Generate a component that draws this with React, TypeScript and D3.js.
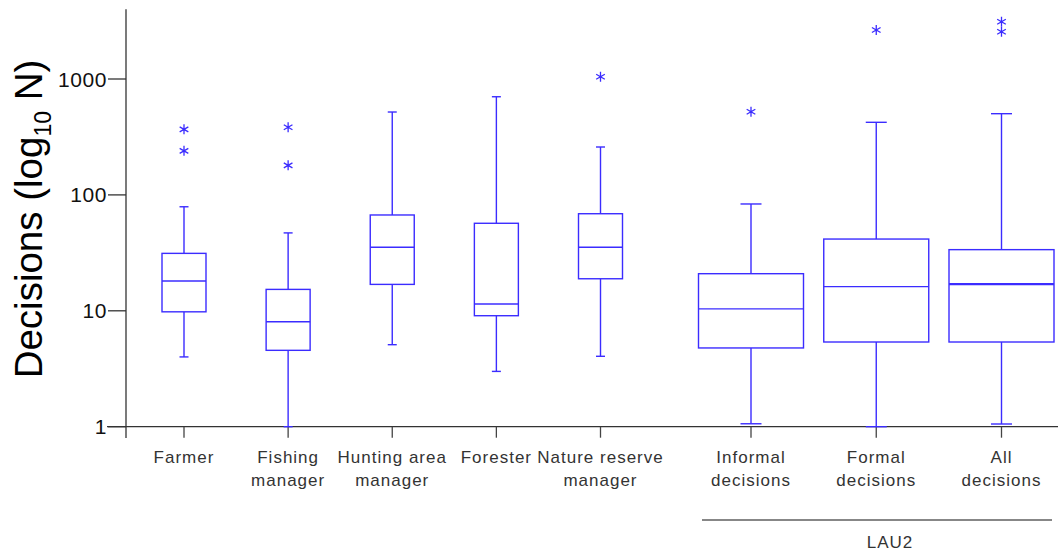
import React from "react";
import * as d3 from "d3";

const groupA = ["Farmer", "Fishing manager", "Hunting area manager", "Forester", "Nature reserve manager"];
const groupB = ["Informal decisions", "Formal decisions", "All decisions"];
const labelLines = [
  ["Farmer"],
  ["Fishing", "manager"],
  ["Hunting area", "manager"],
  ["Forester"],
  ["Nature reserve", "manager"],
  ["Informal", "decisions"],
  ["Formal", "decisions"],
  ["All", "decisions"],
];
const whiskerLow = [4.0, 1.0, 5.1, 3.0, 4.05, 1.06, 1.0, 1.055];
const q1 = [9.8, 4.56, 16.9, 9.07, 18.9, 4.78, 5.38, 5.38];
const median = [18.1, 8.05, 35.3, 11.45, 35.3, 10.4, 16.15, 17.0];
const q3 = [31.3, 15.3, 67.1, 56.9, 68.8, 20.9, 41.6, 33.7];
const whiskerHigh = [79, 47, 519, 703, 259, 83.5, 423, 502];
const outliers = [[240, 368], [180, 383], [], [], [1047], [522], [2648], [2559, 3121]];
const yTicks = [1, 10, 100, 1000];
const groupLabel = "LAU2";

const W = 1058;
const H = 555;
const BLUE = "#3b2cff";
const FONT = "'Liberation Sans', Arial, sans-serif";

export default function App() {
  const y = d3.scaleLog().domain([1, 1000]).range([426.7, 79]);
  const xA = d3.scalePoint<string>().domain(groupA).range([184, 600.5]);
  const xB = d3.scalePoint<string>().domain(groupB).range([751, 1001.5]);
  const all = [...groupA, ...groupB];
  const xPos = (i: number) => (i < groupA.length ? (xA(groupA[i]) as number) : (xB(groupB[i - groupA.length]) as number));
  const boxW = (i: number) => (i < groupA.length ? 44 : 105);
  const capW = (i: number) => (i < groupA.length ? 9 : 21);
  const sym = (d3 as any).symbolAsterisk
    ? d3.symbol((d3 as any).symbolAsterisk, 70)()
    : "M0,-5L0,5M-4.33,-2.5L4.33,2.5M-4.33,2.5L4.33,-2.5";

  const yTop = y(4000);
  const yBot = y(0.8);
  const baseY = y(1);

  return (
    <svg width={W} height={H} style={{ position: "absolute", left: 0, top: 0, background: "#fff" }} fontFamily={FONT}>
      {/* y axis */}
      <line x1={126} x2={126} y1={yTop} y2={yBot} stroke="#333" strokeWidth={1.3} />
      {yTicks.map((t) => (
        <g key={t}>
          <line x1={108} x2={126} y1={y(t)} y2={y(t)} stroke="#333" strokeWidth={1.3} />
          <text x={107} y={y(t)} dy="0.36em" textAnchor="end" fontSize={21} fill="#111" letterSpacing={0.6}>
            {t}
          </text>
        </g>
      ))}
      <text
        transform={`translate(42, ${219}) rotate(-90)`}
        textAnchor="middle"
        fontSize={38.5}
        fill="#000"
      >
        Decisions (log
        <tspan fontSize={23} dy={9}>10</tspan>
        <tspan dy={-9}> N)</tspan>
      </text>

      {/* x axis */}
      <line x1={107} x2={W} y1={baseY} y2={baseY} stroke="#333" strokeWidth={1.3} />
      {all.map((c, i) => (
        <line key={c} x1={xPos(i)} x2={xPos(i)} y1={baseY} y2={baseY + 11} stroke="#444" strokeWidth={1.3} />
      ))}
      {all.map((c, i) => (
        <text key={c} x={xPos(i)} y={463} textAnchor="middle" fontSize={17} fill="#333" letterSpacing={1}>
          {labelLines[i].map((l, j) => (
            <tspan key={j} x={xPos(i)} dy={j === 0 ? 0 : 22.5}>
              {l}
            </tspan>
          ))}
        </text>
      ))}
      <line x1={702} x2={1052} y1={520} y2={520} stroke="#111" strokeWidth={1.2} />
      <text x={890} y={548} textAnchor="middle" fontSize={17} fill="#333" letterSpacing={1}>
        {groupLabel}
      </text>

      {/* boxes */}
      {all.map((c, i) => {
        const cx = xPos(i);
        const bw = boxW(i);
        const cw = capW(i);
        return (
          <g key={c} stroke={BLUE} strokeWidth={1.4} fill="none">
            <line x1={cx} x2={cx} y1={y(whiskerHigh[i])} y2={y(q3[i])} />
            <line x1={cx} x2={cx} y1={y(q1[i])} y2={y(whiskerLow[i])} />
            <line x1={cx - cw / 2} x2={cx + cw / 2} y1={y(whiskerHigh[i])} y2={y(whiskerHigh[i])} />
            <line x1={cx - cw / 2} x2={cx + cw / 2} y1={y(whiskerLow[i])} y2={y(whiskerLow[i])} />
            <rect x={cx - bw / 2} y={y(q3[i])} width={bw} height={y(q1[i]) - y(q3[i])} fill="#fff" />
            <line
              x1={cx - bw / 2}
              x2={cx + bw / 2}
              y1={y(median[i])}
              y2={y(median[i])}
              strokeWidth={i === all.length - 1 ? 2.2 : 1.4}
            />
            {outliers[i].map((o, k) => (
              <path key={k} d={sym as string} transform={`translate(${cx}, ${y(o)})`} strokeWidth={1.3} />
            ))}
          </g>
        );
      })}
    </svg>
  );
}
